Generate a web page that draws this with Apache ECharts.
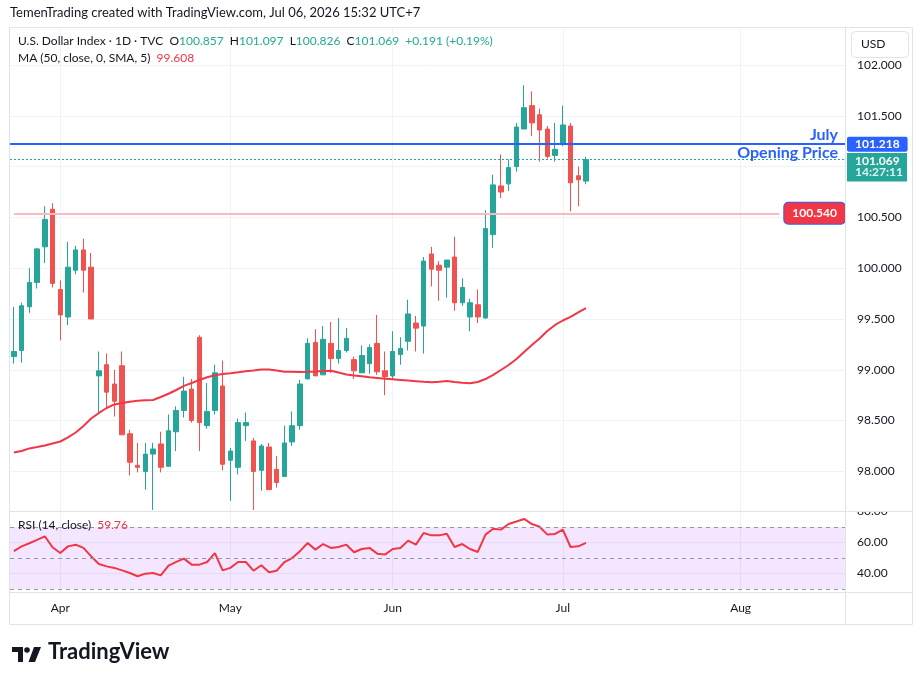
<!DOCTYPE html>
<html>
<head>
<meta charset="utf-8">
<script src="https://cdn.jsdelivr.net/npm/echarts@6/dist/echarts.min.js"></script>
<style>
  html, body { margin: 0; padding: 0; background: #fff; }
  #chart { width: 923px; height: 685px; }
</style>
</head>
<body>
<div id="chart"></div>
<script>
// daily bars, Mar 24 -> Jul 6 2026 (weekdays)
const opens = [99.13, 99.19, 99.62, 99.86, 100.21, 100.58, 99.79, 99.52, 99.98, 100.18,
  100.01, 98.94, 99.05, 98.86, 99.04, 98.37, 98.06, 98.00, 98.17, 98.27,
  98.05, 98.39, 98.60, 98.81, 99.32, 98.45, 98.60, 98.84, 98.11, 98.04,
  98.45, 98.30, 98.01, 98.24, 98.02, 97.95, 98.29, 98.45, 98.91, 99.27,
  98.95, 99.26, 99.11, 99.19, 99.10, 98.97, 99.06, 99.26, 98.99, 98.94,
  99.15, 99.28, 99.46, 99.43, 100.14, 100.03, 100.01, 100.11, 99.66, 99.52,
  99.64, 99.51, 100.33, 100.81, 100.83, 101.00, 101.37, 101.60, 101.51, 101.37,
  101.11, 101.22, 101.40, 100.91, 100.857];
const closes = [99.18, 99.63, 99.86, 100.19, 100.48, 99.85, 99.54, 100.01, 100.18, 99.98,
  99.50, 98.99, 98.78, 98.69, 98.36, 98.09, 98.04, 98.17, 98.22, 98.04,
  98.40, 98.60, 98.79, 98.50, 98.48, 98.59, 98.97, 98.07, 98.20, 98.48,
  98.48, 98.00, 98.25, 97.82, 97.89, 98.28, 98.45, 98.86, 99.26, 98.94,
  99.30, 99.11, 99.19, 99.31, 98.99, 99.14, 99.22, 98.98, 98.93, 99.18,
  99.21, 99.55, 99.41, 100.07, 99.99, 99.98, 100.08, 99.66, 99.81, 99.66,
  99.52, 100.39, 100.82, 100.75, 100.99, 101.39, 101.58, 101.43, 101.36, 101.10,
  101.17, 101.41, 100.84, 100.87, 101.069];
const highs = [99.62, 99.66, 100.00, 100.20, 100.61, 100.64, 99.88, 100.26, 100.22, 100.29,
  100.15, 99.18, 99.16, 99.00, 99.18, 98.41, 98.28, 98.28, 98.28, 98.39,
  98.56, 98.64, 98.93, 98.91, 99.34, 98.87, 99.05, 99.09, 98.23, 98.52,
  98.58, 98.33, 98.27, 98.28, 98.15, 98.45, 98.59, 98.90, 99.31, 99.40,
  99.43, 99.47, 99.51, 99.41, 99.13, 99.24, 99.25, 99.54, 99.18, 99.38,
  99.32, 99.69, 99.53, 100.11, 100.21, 100.07, 100.08, 100.31, 99.90, 99.70,
  99.79, 100.57, 100.92, 101.12, 101.07, 101.43, 101.80, 101.74, 101.57, 101.40,
  101.43, 101.60, 101.43, 101.00, 101.097];
const lows = [99.06, 99.07, 99.56, 99.80, 100.05, 99.81, 99.29, 99.44, 99.94, 99.76,
  99.50, 98.57, 98.62, 98.54, 98.36, 97.96, 97.99, 97.82, 97.62, 97.99,
  98.05, 98.20, 98.53, 98.48, 98.20, 98.42, 98.56, 98.01, 97.71, 97.97,
  98.30, 97.62, 97.81, 97.82, 97.84, 97.95, 98.25, 98.41, 98.91, 98.94,
  98.95, 98.97, 99.06, 99.17, 98.91, 98.97, 98.96, 98.95, 98.75, 98.91,
  99.05, 99.19, 99.18, 99.16, 99.82, 99.68, 99.71, 99.58, 99.63, 99.38,
  99.46, 99.50, 100.20, 100.69, 100.76, 100.95, 101.37, 101.30, 101.05, 101.08,
  101.05, 101.20, 100.56, 100.61, 100.826];

const ma50 = [98.186, 98.201, 98.226, 98.240, 98.255, 98.275, 98.294, 98.334, 98.383, 98.447,
  98.521, 98.575, 98.624, 98.659, 98.673, 98.686, 98.695, 98.700, 98.703, 98.732,
  98.764, 98.801, 98.841, 98.870, 98.900, 98.926, 98.946, 98.959, 98.966, 98.975,
  98.985, 98.993, 99.003, 99.003, 98.993, 98.981, 98.980, 98.978, 98.980, 98.983,
  98.988, 98.991, 98.973, 98.953, 98.944, 98.936, 98.926, 98.919, 98.911, 98.906,
  98.900, 98.894, 98.888, 98.882, 98.877, 98.882, 98.890, 98.880, 98.872, 98.867,
  98.880, 98.909, 98.949, 98.998, 99.047, 99.106, 99.175, 99.244, 99.308, 99.382,
  99.441, 99.485, 99.520, 99.564, 99.608];

const rsi14 = [54.5, 57.5, 59.5, 61.7, 64.0, 56.9, 53.2, 57.5, 58.6, 56.5,
  51.0, 46.1, 44.6, 43.6, 42.0, 40.3, 38.2, 39.9, 40.3, 38.8,
  45.1, 47.5, 49.6, 45.7, 45.7, 47.4, 53.2, 42.0, 43.6, 47.4,
  47.4, 41.8, 45.3, 40.8, 41.8, 47.4, 50.0, 54.4, 59.7, 55.4,
  59.0, 56.5, 57.1, 58.6, 53.7, 55.8, 56.5, 52.8, 52.2, 55.8,
  56.5, 61.2, 58.6, 66.1, 64.6, 64.6, 65.7, 57.1, 59.0, 55.8,
  53.9, 65.1, 68.9, 68.3, 71.9, 73.5, 75.2, 71.9, 70.2, 65.1,
  65.5, 68.3, 57.1, 57.5, 59.76];

const monthStarts = ['2026-04-01', '2026-05-01', '2026-06-01', '2026-07-01', '2026-08-03'];
const monthNames = ['Apr', 'May', 'Jun', 'Jul', 'Aug'];
const julyOpen = 101.218;
const lastClose = 101.069;
const alertLevel = 100.540;
const rsiBands = [70, 50, 30];

// time slots: weekdays from first bar, plus empty space on the right
const slotDates = [];
const day = new Date(Date.UTC(2026, 2, 24));
while (slotDates.length < 108) {
  const wd = day.getUTCDay();
  if (wd !== 0 && wd !== 6) slotDates.push(day.toISOString().slice(0, 10));
  day.setUTCDate(day.getUTCDate() + 1);
}

const candles = opens.map((o, i) => [o, closes[i], lows[i], highs[i]]);
const isMonthStart = (i, v) => monthStarts.indexOf(v) >= 0;

const FONT = 'Lato, "Liberation Sans", sans-serif';
const TXT = '#131722';
const UP = '#26a69a';
const DOWN = '#ef5350';
const GRIDC = '#f0f2f5';
const HIDDEN = { color: 'rgba(0,0,0,0)', width: 0 };

const chart = echarts.init(document.getElementById('chart'));

chart.setOption({
  animation: false,
  textStyle: { fontFamily: FONT },
  grid: [
    { left: 10, top: 27, width: 835, height: 484 },
    { left: 10, top: 511, width: 835, height: 81 }
  ],
  xAxis: [
    {
      type: 'category', gridIndex: 0, data: slotDates, boundaryGap: true,
      axisLine: { show: false }, axisTick: { show: false }, axisLabel: { show: false },
      splitLine: { show: true, interval: isMonthStart, alignWithLabel: true, lineStyle: { color: GRIDC } }
    },
    {
      type: 'category', gridIndex: 1, data: slotDates, boundaryGap: true,
      axisLine: { show: false }, axisTick: { show: false },
      axisLabel: {
        interval: isMonthStart, margin: 10, color: TXT, fontSize: 12, fontFamily: FONT,
        formatter: v => monthNames[monthStarts.indexOf(v)]
      },
      splitLine: { show: true, interval: isMonthStart, alignWithLabel: true, lineStyle: { color: GRIDC } }
    }
  ],
  yAxis: [
    {
      type: 'value', gridIndex: 0, position: 'right', min: 97.61, max: 102.374, splitNumber: 10,
      axisLine: { show: false }, axisTick: { show: false },
      axisLabel: {
        margin: 12, color: TXT, fontSize: 12, fontFamily: FONT,
        showMinLabel: false, showMaxLabel: false, formatter: v => v.toFixed(3)
      },
      splitLine: { lineStyle: { color: GRIDC } }
    },
    {
      type: 'value', gridIndex: 1, position: 'right', min: 28.06, max: 80.32, splitNumber: 3,
      axisLine: { show: false }, axisTick: { show: false },
      axisLabel: {
        margin: 12, color: TXT, fontSize: 12, fontFamily: FONT,
        showMinLabel: false, showMaxLabel: false, formatter: v => v.toFixed(2)
      },
      splitLine: { lineStyle: { color: GRIDC } }
    }
  ],
  series: [
    {
      name: 'DXY', type: 'candlestick', xAxisIndex: 0, yAxisIndex: 0,
      data: candles, barWidth: 5,
      itemStyle: { color: UP, color0: DOWN, borderColor: UP, borderColor0: DOWN, borderWidth: 1 },
      markLine: {
        silent: true, symbol: 'none', animation: false,
        data: [
          {
            yAxis: lastClose, lineStyle: { color: UP, width: 1, type: [2, 2] },
            label: {
              show: true, position: 'end', distance: 2,
              formatter: '{e|}\n{a|' + lastClose.toFixed(3) + '}\n{b|14:27:11}',
              rich: {
                e: { height: 15, lineHeight: 15 },
                a: { color: '#fff', backgroundColor: UP, width: 44, padding: [2, 8, 1, 8], lineHeight: 13,
                  fontSize: 12, fontWeight: 'bold', fontFamily: FONT },
                b: { color: '#dff3ef', backgroundColor: UP, width: 44, padding: [1, 8, 3, 8], lineHeight: 13,
                  fontSize: 12, fontWeight: 'bold', fontFamily: FONT }
              }
            }
          },
          {
            yAxis: julyOpen, lineStyle: { color: '#2962ff', width: 2, type: 'solid' },
            label: { show: true, position: 'insideEndTop', formatter: 'July', distance: [7, 1],
              color: '#2962ff', fontSize: 16, fontWeight: 'bold', fontFamily: FONT }
          },
          {
            yAxis: julyOpen, lineStyle: HIDDEN,
            label: { show: true, position: 'insideEndBottom', formatter: 'Opening Price', distance: [7, 1],
              color: '#2962ff', fontSize: 16, fontWeight: 'bold', fontFamily: FONT }
          },
          {
            yAxis: julyOpen, lineStyle: HIDDEN,
            label: { show: true, position: 'end', distance: 2, formatter: julyOpen.toFixed(3),
              color: '#fff', backgroundColor: '#2962ff', padding: [2, 8, 1, 8], borderRadius: 2,
              fontSize: 12, lineHeight: 12, fontWeight: 'bold', fontFamily: FONT }
          },
          [
            { coord: [slotDates[0], alertLevel], lineStyle: { color: '#f8bcc0', width: 2, type: 'solid' },
              label: { show: true, position: 'end', distance: 5, formatter: alertLevel.toFixed(3),
                color: '#fff', backgroundColor: '#f23645', borderColor: '#2962ff', borderWidth: 1,
                borderRadius: 4, padding: [5, 8, 4, 8], fontSize: 12, fontWeight: 'bold', fontFamily: FONT } },
            { coord: [slotDates[99], alertLevel] }
          ]
        ]
      }
    },
    {
      name: 'MA50', type: 'line', xAxisIndex: 0, yAxisIndex: 0, data: ma50,
      symbol: 'none', smooth: false, z: 3,
      lineStyle: { color: '#f23645', width: 2 }
    },
    {
      name: 'RSI', type: 'line', xAxisIndex: 1, yAxisIndex: 1, data: rsi14,
      symbol: 'none', z: 3,
      lineStyle: { color: '#f23645', width: 2 },
      markArea: {
        silent: true,
        itemStyle: { color: 'rgba(150, 30, 245, 0.11)' },
        data: [[{ yAxis: rsiBands[2] }, { yAxis: rsiBands[0] }]]
      },
      markLine: {
        silent: true, symbol: 'none', label: { show: false },
        lineStyle: { color: '#9598a1', width: 1, type: [4, 4] },
        data: rsiBands.map(v => ({ yAxis: v }))
      }
    }
  ],
  graphic: [
    { type: 'text', left: 10, top: 6, z: 60,
      style: { text: 'TemenTrading created with TradingView.com, Jul 06, 2026 15:32 UTC+7',
        font: '13px ' + FONT, fill: TXT } },
    { type: 'rect', z: 50, shape: { x: 9.5, y: 27.5, width: 903, height: 597 },
      style: { fill: null, stroke: '#e0e3eb', lineWidth: 1 } },
    { type: 'rect', z: 55, shape: { x: 846, y: 503, width: 66, height: 8 }, style: { fill: '#fff' } },
    { type: 'line', z: 56, shape: { x1: 845.5, y1: 27, x2: 845.5, y2: 625 }, style: { stroke: '#e0e3eb', lineWidth: 1 } },
    { type: 'line', z: 56, shape: { x1: 9, y1: 511.5, x2: 913, y2: 511.5 }, style: { stroke: '#e0e3eb', lineWidth: 1 } },
    { type: 'line', z: 56, shape: { x1: 9, y1: 592.5, x2: 913, y2: 592.5 }, style: { stroke: '#e0e3eb', lineWidth: 1 } },
    { type: 'text', left: 18, top: 35, z: 60,
      style: {
        text: 'U.S. Dollar Index · 1D · TVC  O{v|100.857}  H{v|101.097}  L{v|100.826}  C{v|101.069}  {v|+0.191 (+0.19%)}',
        font: '12px ' + FONT, fill: TXT,
        rich: { v: { fill: '#22ab94', font: '12px ' + FONT } }
      } },
    { type: 'text', left: 18, top: 52, z: 60,
      style: {
        text: 'MA (50, close, 0, SMA, 5)  {r|99.608}', font: '12px ' + FONT, fill: TXT,
        rich: { r: { fill: '#f23645', font: '12px ' + FONT } }
      } },
    { type: 'text', left: 18, top: 519, z: 60,
      style: {
        text: 'RSI (14, close)  {r|59.76}', font: '12px ' + FONT, fill: TXT,
        rich: { r: { fill: '#f23645', font: '12px ' + FONT } }
      } },
    { type: 'rect', z: 60, shape: { x: 851.5, y: 31.5, width: 57, height: 26, r: 4 },
      style: { fill: '#fff', stroke: '#e0e3eb', lineWidth: 1 } },
    { type: 'text', left: 861, top: 38, z: 61, style: { text: 'USD', font: '12px ' + FONT, fill: TXT } },
    // TradingView logo
    { type: 'rect', z: 60, shape: { x: 12, y: 647, width: 11, height: 5 }, style: { fill: TXT } },
    { type: 'rect', z: 60, shape: { x: 18, y: 647, width: 5, height: 15 }, style: { fill: TXT } },
    { type: 'circle', z: 60, shape: { cx: 27, cy: 650, r: 2.8 }, style: { fill: TXT } },
    { type: 'polygon', z: 60, shape: { points: [[34, 647], [41, 647], [35, 662], [28.5, 662]] }, style: { fill: TXT } },
    { type: 'text', left: 48, top: 641, z: 60,
      style: { text: 'TradingView', font: 'bold 22px ' + FONT, fill: TXT } }
  ]
});
</script>
</body>
</html>
